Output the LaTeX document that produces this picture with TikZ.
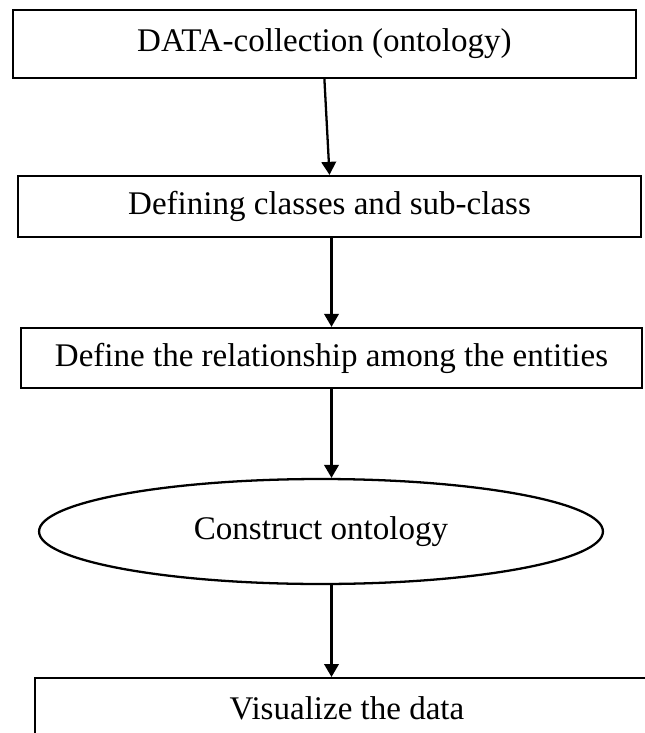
\documentclass[tikz,border=0pt]{standalone}
\usepackage{fontspec}
\setmainfont{Liberation Serif}
\usetikzlibrary{arrows.meta,shapes.geometric}
\tikzset{
  >={Triangle[length=2.6mm,width=2.9mm]},
  box/.style={rectangle,draw,inner sep=0pt,font=\fontsize{18.8}{22}\selectfont},
  oval/.style={ellipse,draw,inner sep=0pt,font=\fontsize{18.8}{22}\selectfont},
  every picture/.style={line width=1.3pt},
}

\begin{document}
\begin{tikzpicture}[x=0.02cm,y=-0.02cm,line width=1.3pt]
\useasboundingbox (0,0) rectangle (645,733);
\clip (0,0) rectangle (645,733);
\node[box,minimum width=12.46cm,minimum height=1.36cm] (data) at (324.4,44){DATA-collection (ontology)};
\node[box,minimum width=12.46cm,minimum height=1.22cm] (classes) at (329.5,206.5){Defining classes and sub-class};
\node[box,minimum width=12.42cm,minimum height=1.2cm] (relation) at (331.5,358){Define the relationship among the entities};
\node[oval,minimum width=11.28cm,minimum height=2.1cm] (onto) at (321,531.5){Construct ontology};
\node[box,anchor=north,minimum width=12.48cm,text height=0.82cm,text depth=1cm] (visual) at (347,677){Visualize the data};
\draw[->] (data.south)--(classes.north);
\draw[->] (classes.south -| relation.north)--(relation.north);
\draw[->] (relation.south)--(relation.south |- onto.north);
\draw[->] (onto.south -| relation.south)--(visual.north -| relation.south);
\end{tikzpicture}
\end{document}
